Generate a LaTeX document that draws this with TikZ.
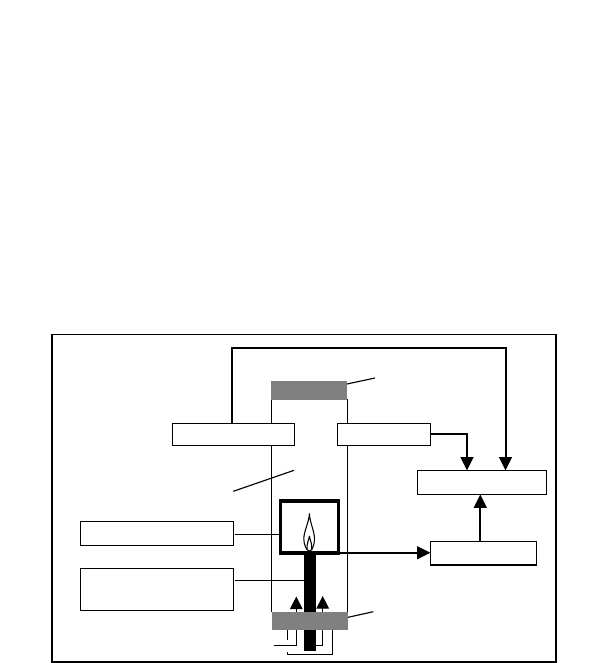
\documentclass[tikz,border=0pt]{standalone}
\usetikzlibrary{arrows.meta}
\tikzset{
  px/.style={x=0.75pt,y=-0.75pt},
  box/.style={draw=black,fill=white,line width=1.1pt,inner sep=0pt,outer sep=0pt,anchor=north west},
  thin line/.style={draw=black,line width=0.85pt},
  flow/.style={draw=black,line width=1.5pt,-{Triangle[length=10pt,width=9.5pt]}},
  feed/.style={draw=black,line width=0.9pt,-{Triangle[length=9.5pt,width=9.5pt]}},
  graybar/.style={fill=black!50,draw=none,inner sep=0pt,outer sep=0pt,anchor=north west},
}
\begin{document}
\begin{tikzpicture}[px]
\useasboundingbox (0,0) rectangle (609,663);
% frame
\node[draw=black,line width=1.1pt,inner sep=0pt,outer sep=0pt,anchor=north west,minimum width=378pt,minimum height=245.5pt] (frame) at (52,334.5) {};
\draw[black,line width=1.6pt] (52,334.5) -- (52,662);
% tube
\coordinate (tubeTL) at (271.5,399);
\coordinate (tubeBL) at (271.5,612);
\coordinate (tubeTR) at (347.5,399);
\coordinate (tubeBR) at (347.5,612);
\draw[thin line] (tubeTL) -- (tubeBL);
\draw[thin line] (tubeTR) -- (tubeBR);
% lower piping behind bar
\coordinate (feedAstart) at (273.5,645.7);
\coordinate (feedAcorner) at (296.3,645.7);
\coordinate (feedAtip) at (296.3,596.5);
\coordinate (feedBstart) at (315,645.7);
\coordinate (feedBcorner) at (322.7,645.7);
\coordinate (feedBtip) at (322.7,596);
\draw[feed] (feedAstart) -- (feedAcorner) -- (feedAtip);
\draw[feed] (feedBstart) -- (feedBcorner) -- (feedBtip);
\coordinate (loopA) at (287.7,620);
\coordinate (loopB) at (287.7,640);
\coordinate (loopC) at (287.7,654.3);
\coordinate (loopD) at (332.7,654.3);
\coordinate (loopE) at (332.7,620);
\coordinate (loopF) at (287.7,652);
\draw[thin line] (loopA) -- (loopB);
\draw[thin line] (loopF) -- (loopC) -- (loopD) -- (loopE);
% column
\node[fill=black,draw=none,inner sep=0pt,outer sep=0pt,anchor=north west,minimum width=9.2pt,minimum height=73pt] (column) at (303.5,553.5) {};
% bars
\node[graybar,minimum width=57pt,minimum height=14pt] (topbar) at (271,381) {};
\node[graybar,minimum width=57pt,minimum height=13.5pt] (botbar) at (272,612) {};
% flame box
\node[draw=black,fill=white,line width=2.6pt,inner sep=0pt,outer sep=0pt,anchor=north west,minimum width=43.6pt,minimum height=39pt] (flamebox) at (280.3,501) {};
% flame
\draw[black,line width=0.8pt,fill=white] (309.4,513.5) .. controls (309.6,522) and (314.5,531) .. (314.5,539) .. controls (314.5,545) and (312,551) .. (309.4,551) .. controls (306.8,551) and (303.8,545) .. (303.8,539) .. controls (303.8,531) and (309.2,522) .. cycle;
\draw[black,line width=0.8pt] (309.4,536) .. controls (309,540) and (306.5,543) .. (307,550) (309.4,536) .. controls (309.8,540) and (312.3,543) .. (311.8,550);
% boxes
\node[box,minimum width=91.6pt,minimum height=16.5pt] (leftbox) at (172.5,423.5) {};
\node[box,minimum width=69.6pt,minimum height=16.5pt] (midbox) at (337.5,423.5) {};
\node[box,minimum width=96.7pt,minimum height=18pt] (rightbox) at (417.5,470.5) {};
\node[box,minimum width=79.6pt,minimum height=17.5pt] (lowbox) at (430.5,541.5) {};
\node[box,minimum width=114.7pt,minimum height=18pt] (boxone) at (80.5,521.5) {};
\node[box,minimum width=114.7pt,minimum height=31.5pt] (boxtwo) at (80.5,568.5) {};
% arrows
\coordinate (loop1) at (231.5,347.5);
\coordinate (loop2) at (505.5,347.5);
\draw[flow] (loop1 |- leftbox.north) -- (loop1) -- (loop2) -- (loop2 |- rightbox.north);
\coordinate (bend) at (467,433.7);
\draw[flow] (midbox.east |- bend) -- (bend) -- (bend |- rightbox.north);
\coordinate (riser) at (480.3,541.5);
\draw[flow] (riser) -- (riser |- rightbox.south);
\coordinate (signal) at (340,552.7);
\draw[flow] (signal) -- (signal -| lowbox.west);
% leaders
\coordinate (lead1) at (375,378);
\coordinate (lead2) at (373.3,611.7);
\coordinate (lead3a) at (233.3,491.3);
\coordinate (lead3b) at (294,470.3);
\coordinate (lead4) at (235,534.5);
\coordinate (lead5) at (235,580.5);
\draw[thin line] (347,384) -- (lead1);
\draw[thin line] (348,617.3) -- (lead2);
\draw[thin line] (lead3a) -- (lead3b);
\draw[thin line] (lead4) -- (lead4 -| flamebox.west);
\draw[thin line] (lead5) -- (lead5 -| column.west);
\end{tikzpicture}
\end{document}
